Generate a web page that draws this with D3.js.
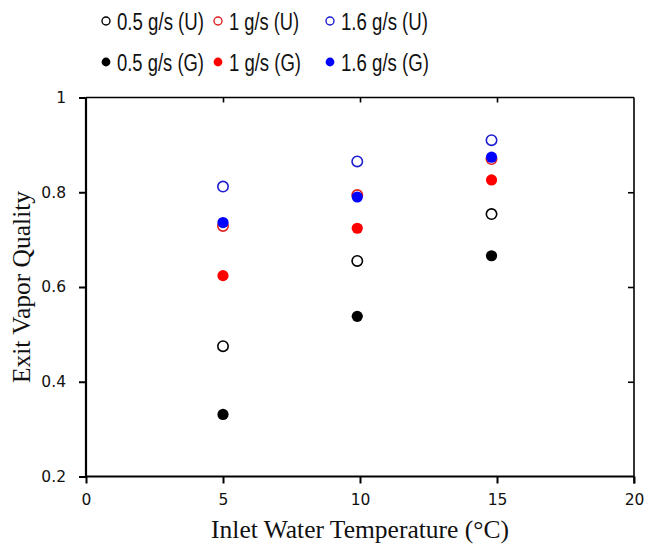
<!DOCTYPE html>
<html><head><meta charset="utf-8">
<script src="https://cdn.jsdelivr.net/npm/d3@7"></script>
<style>
body{margin:0;background:#fff;}
svg{display:block;}
</style></head>
<body>
<svg id="chart" width="646" height="553"></svg>
<script>
// ---- data ----
const temps = [5.0, 9.9, 14.8];
const u05 = [0.475, 0.655, 0.754];
const u1  = [0.729, 0.794, 0.870];
const u16 = [0.812, 0.865, 0.910];
const g05 = [0.331, 0.538, 0.666];
const g1  = [0.624, 0.724, 0.826];
const g16 = [0.736, 0.790, 0.874];
const seriesNames = ["0.5 g/s (U)", "1 g/s (U)", "1.6 g/s (U)", "0.5 g/s (G)", "1 g/s (G)", "1.6 g/s (G)"];
const xTicks = [0, 5, 10, 15, 20];
const yTicks = [0.2, 0.4, 0.6, 0.8, 1];

const series = [
  {name: seriesNames[0], vals: u05, color: "#000000", filled: false},
  {name: seriesNames[1], vals: u1,  color: "#e02020", filled: false},
  {name: seriesNames[2], vals: u16, color: "#1c1cd0", filled: false},
  {name: seriesNames[3], vals: g05, color: "#000000", filled: true},
  {name: seriesNames[4], vals: g1,  color: "#ff0000", filled: true},
  {name: seriesNames[5], vals: g16, color: "#0000ff", filled: true}
];

const svg = d3.select("#chart");
const L = 86, R = 634, T = 97.5, B = 476.5;
const x = d3.scaleLinear().domain([0, 20]).range([L, R]);
const y = d3.scaleLinear().domain([0.2, 1]).range([B, T]);

const tickFont = "'DejaVu Sans', sans-serif";

// bottom axis
const xAxis = svg.append("g").attr("transform", `translate(0,${B})`)
  .call(d3.axisBottom(x).tickValues(xTicks).tickSize(7).tickPadding(10).tickFormat(d3.format("d")));
xAxis.select(".domain").attr("stroke-width", 2).attr("d", `M${L},0H${R}`);
xAxis.selectAll(".tick line").attr("stroke-width", 2);
xAxis.selectAll("text").attr("font-family", tickFont).attr("font-size", "15.5px").attr("fill", "#111");

// left axis
const yAxis = svg.append("g").attr("transform", `translate(${L},0)`)
  .call(d3.axisLeft(y).tickValues(yTicks).tickSize(7).tickPadding(13).tickFormat(d => d === 1 ? "1" : d3.format(".1f")(d)));
yAxis.select(".domain").attr("stroke-width", 2.2).attr("d", `M0,${B}V${T}`);
yAxis.selectAll(".tick line").attr("stroke-width", 2);
yAxis.selectAll("text").attr("font-family", tickFont).attr("font-size", "15.5px").attr("fill", "#111");

// top axis (inward ticks, no labels)
const topAxis = svg.append("g").attr("transform", `translate(0,${T})`)
  .call(d3.axisBottom(x).tickValues([5, 10, 15]).tickSize(5).tickFormat(""));
topAxis.select(".domain").attr("stroke-width", 1.5).attr("d", `M${L},0H${R}`);
topAxis.selectAll(".tick line").attr("stroke-width", 1.6);

// right axis (inward ticks, no labels)
const rightAxis = svg.append("g").attr("transform", `translate(${R},0)`)
  .call(d3.axisLeft(y).tickValues([0.4, 0.6, 0.8]).tickSize(6).tickFormat(""));
rightAxis.select(".domain").attr("stroke-width", 1.6).attr("d", `M0,${B + 7}V${T}`);
rightAxis.selectAll(".tick line").attr("stroke-width", 1.6);

// axis titles
svg.append("text").attr("x", (L + R) / 2).attr("y", 538)
  .attr("text-anchor", "middle").attr("font-family", "'Liberation Serif', 'Times New Roman', serif")
  .attr("font-size", "25.5px").attr("fill", "#111").text("Inlet Water Temperature (°C)");
svg.append("text").attr("transform", `translate(30,${(T + B) / 2}) rotate(-90)`)
  .attr("text-anchor", "middle").attr("font-family", "'Liberation Serif', 'Times New Roman', serif")
  .attr("font-size", "25.5px").attr("fill", "#111").text("Exit Vapor Quality");

// points
const pts = svg.append("g");
series.forEach(s => {
  pts.selectAll(null).data(s.vals.map((v, i) => ({t: temps[i], v})))
    .enter().append("circle")
    .attr("cx", d => x(d.t)).attr("cy", d => y(d.v))
    .attr("r", s.filled ? 5.6 : 5.2)
    .attr("fill", s.filled ? s.color : "#fff")
    .attr("stroke", s.filled ? "none" : s.color)
    .attr("stroke-width", 1.6);
});

// legend (condensed look via textLength)
const legFont = "'Liberation Sans', Arial, sans-serif";
const colX = [106, 218, 330];
const rowY = [21, 62];
const legWidths = [87, 70, 87, 87, 72, 88];
const leg = svg.append("g");
series.forEach((s, i) => {
  const cx = colX[i % 3], cy = rowY[Math.floor(i / 3)];
  leg.append("circle").attr("cx", cx).attr("cy", cy).attr("r", s.filled ? 4.4 : 4)
    .attr("fill", s.filled ? s.color : "#fff")
    .attr("stroke", s.filled ? "none" : s.color).attr("stroke-width", 1.4);
  leg.append("text").attr("x", cx + 11).attr("y", cy + 8.6)
    .attr("font-family", legFont).attr("font-size", "23px").attr("fill", "#111")
    .attr("textLength", legWidths[i]).attr("lengthAdjust", "spacingAndGlyphs")
    .text(s.name);
});
</script>
</body></html>
